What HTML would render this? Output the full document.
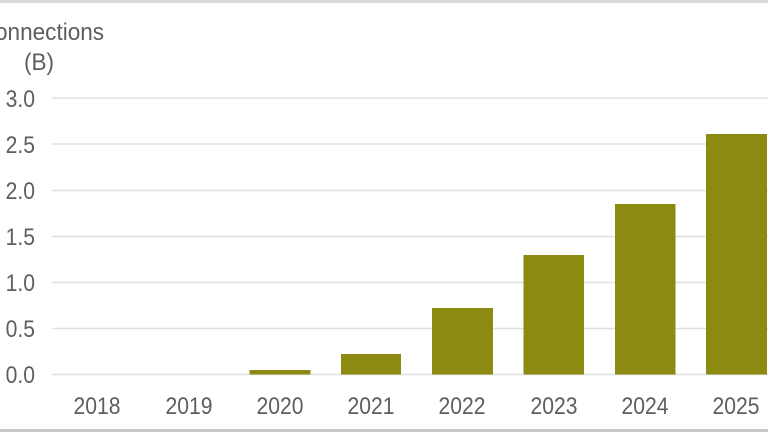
<!DOCTYPE html>
<html><head><style>
body{margin:0;width:768px;height:432px;overflow:hidden;background:#fff;font-family:"Liberation Sans",sans-serif;}
</style></head><body>
<svg width="768" height="432" xmlns="http://www.w3.org/2000/svg" font-family="Liberation Sans, sans-serif">
<rect x="0" y="0" width="768" height="3" fill="#d8d8d8"/>
<rect x="0" y="429" width="768" height="3" fill="#c8c8c8"/>
<g stroke="#e0e0e0" stroke-width="1.5">
<line x1="52" x2="768" y1="98" y2="98"/>
<line x1="52" x2="768" y1="144" y2="144"/>
<line x1="52" x2="768" y1="190.5" y2="190.5"/>
<line x1="52" x2="768" y1="236.5" y2="236.5"/>
<line x1="52" x2="768" y1="282.5" y2="282.5"/>
<line x1="52" x2="768" y1="328.5" y2="328.5"/>
<line x1="52" x2="768" y1="374.5" y2="374.5"/>
</g>
<g fill="#8c8a10">
<rect x="249.5" y="370" width="61" height="4.5"/>
<rect x="341" y="354" width="60" height="20.5"/>
<rect x="432" y="308" width="61" height="66.5"/>
<rect x="523.5" y="255" width="60.5" height="119.5"/>
<rect x="615" y="204" width="60.5" height="170.5"/>
<rect x="706" y="134" width="61" height="240.5"/>
</g>
<g fill="#5e5e5e" font-size="24">
<text transform="translate(-5,40) scale(0.94,1)">onnections</text>
<text transform="translate(24,70) scale(0.94,1)">(B)</text>
<g text-anchor="end">
<text transform="translate(35,107) scale(0.88,1)">3.0</text>
<text transform="translate(35,153) scale(0.88,1)">2.5</text>
<text transform="translate(35,199) scale(0.88,1)">2.0</text>
<text transform="translate(35,245) scale(0.88,1)">1.5</text>
<text transform="translate(35,291) scale(0.88,1)">1.0</text>
<text transform="translate(35,337) scale(0.88,1)">0.5</text>
<text transform="translate(35,383) scale(0.88,1)">0.0</text>
</g>
<g text-anchor="middle">
<text transform="translate(97,414) scale(0.88,1)">2018</text>
<text transform="translate(189,414) scale(0.88,1)">2019</text>
<text transform="translate(280,414) scale(0.88,1)">2020</text>
<text transform="translate(371,414) scale(0.88,1)">2021</text>
<text transform="translate(462,414) scale(0.88,1)">2022</text>
<text transform="translate(554,414) scale(0.88,1)">2023</text>
<text transform="translate(645,414) scale(0.88,1)">2024</text>
<text transform="translate(736,414) scale(0.88,1)">2025</text>
</g>
</g>
</svg>
</body></html>
